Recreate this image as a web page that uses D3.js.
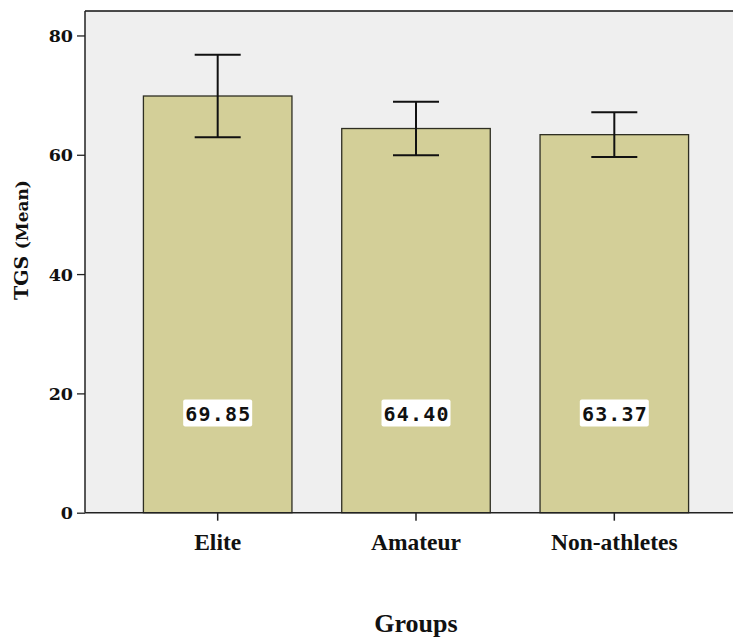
<!DOCTYPE html>
<html>
<head>
<meta charset="utf-8">
<script src="https://cdn.jsdelivr.net/npm/d3@7"></script>
<style>
  html, body { margin: 0; padding: 0; background: #fff; }
  svg { display: block; }
</style>
</head>
<body>
<svg id="chart" width="733" height="637"></svg>
<script>
const categories = ["Elite", "Amateur", "Non-athletes"];
const means = [69.85, 64.40, 63.37];
const errors = [6.9, 4.5, 3.75];
const meanLabels = ["69.85", "64.40", "63.37"];
const yTicks = [0, 20, 40, 60, 80];
const yTitle = "TGS";
const yTitleSub = "(Mean)";
const xTitle = "Groups";

(function () {
const svg = d3.select("#chart");
const pL = 85, pR = 747, pT = 11, pB = 512.7;

const x = d3.scaleBand().domain(categories).range([pL, pR])
  .paddingInner(0.251).paddingOuter(0.2946);
const y = d3.scaleLinear().domain([0, 84.1]).range([pB, pT]);

// plot background
svg.append("rect").attr("x", pL).attr("y", pT)
  .attr("width", pR - pL).attr("height", pB - pT)
  .attr("fill", "#efefef");

// bars
svg.selectAll("rect.bar").data(categories).join("rect")
  .attr("class", "bar")
  .attr("x", d => x(d))
  .attr("y", (d, i) => y(means[i]))
  .attr("width", x.bandwidth())
  .attr("height", (d, i) => pB - y(means[i]))
  .attr("fill", "#d3cf98")
  .attr("stroke", "#2e2e22")
  .attr("stroke-width", 1.3);

// error bars
const capW = 46;
const eg = svg.append("g").attr("stroke", "#111").attr("stroke-width", 2);
categories.forEach((c, i) => {
  const cx = x(c) + x.bandwidth() / 2;
  const hi = y(means[i] + errors[i]), lo = y(means[i] - errors[i]);
  eg.append("line").attr("x1", cx).attr("x2", cx).attr("y1", hi).attr("y2", lo);
  eg.append("line").attr("x1", cx - capW / 2).attr("x2", cx + capW / 2).attr("y1", hi).attr("y2", hi);
  eg.append("line").attr("x1", cx - capW / 2).attr("x2", cx + capW / 2).attr("y1", lo).attr("y2", lo);
});

// value labels
categories.forEach((c, i) => {
  const cx = x(c) + x.bandwidth() / 2;
  const cy = 413;
  svg.append("rect").attr("x", cx - 34.5).attr("y", cy - 13.5)
    .attr("width", 69).attr("height", 27).attr("fill", "#fff").attr("rx", 2);
  svg.append("text").attr("x", cx + 0.7).attr("y", cy + 7.5)
    .attr("text-anchor", "middle")
    .attr("font-family", "DejaVu Sans Mono")
    .attr("font-weight", "bold").attr("font-size", 20)
    .attr("letter-spacing", 1.2)
    .attr("fill", "#111")
    .text(meanLabels[i]);
});

// top border
svg.append("line").attr("x1", pL).attr("x2", 733).attr("y1", pT).attr("y2", pT)
  .attr("stroke", "#111").attr("stroke-width", 1.5);

// y axis
const yAxis = d3.axisLeft(y).tickValues(yTicks).tickSize(8).tickPadding(4).tickFormat(d3.format("d"));
const yg = svg.append("g").attr("transform", `translate(${pL},0)`).call(yAxis);
yg.select(".domain").attr("stroke", "#222").attr("stroke-width", 1.5).attr("d", `M0,${pT}V${pB}`);
yg.selectAll(".tick line").attr("stroke", "#222").attr("stroke-width", 1.3);
yg.selectAll(".tick text").attr("font-family", "DejaVu Serif").attr("font-weight", "bold")
  .attr("font-size", 17.5).attr("fill", "#111").attr("dy", "0.35em");

// x axis
const xAxis = d3.axisBottom(x).tickSize(8).tickPadding(13);
const xg = svg.append("g").attr("transform", `translate(0,${pB})`).call(xAxis);
xg.select(".domain").attr("stroke", "#222").attr("stroke-width", 1.5).attr("d", `M${pL},0H${pR}`);
xg.selectAll(".tick line").attr("stroke", "#222").attr("stroke-width", 1.5);
xg.selectAll(".tick text").attr("font-family", "Liberation Serif").attr("font-weight", "bold")
  .attr("font-size", 23.5).attr("fill", "#111");

// y title
const yt = svg.append("text")
  .attr("transform", "translate(28,240) rotate(-90)")
  .attr("text-anchor", "middle")
  .attr("fill", "#111").attr("font-weight", "bold")
  .attr("font-family", "DejaVu Serif");
yt.append("tspan").attr("font-size", 19).text(yTitle + " ");
yt.append("tspan").attr("font-size", 17).text(yTitleSub);

// x title
svg.append("text").attr("x", 416).attr("y", 632)
  .attr("text-anchor", "middle")
  .attr("font-family", "Liberation Serif").attr("font-weight", "bold")
  .attr("font-size", 26).attr("fill", "#111")
  .text(xTitle);
})();
</script>
</body>
</html>
